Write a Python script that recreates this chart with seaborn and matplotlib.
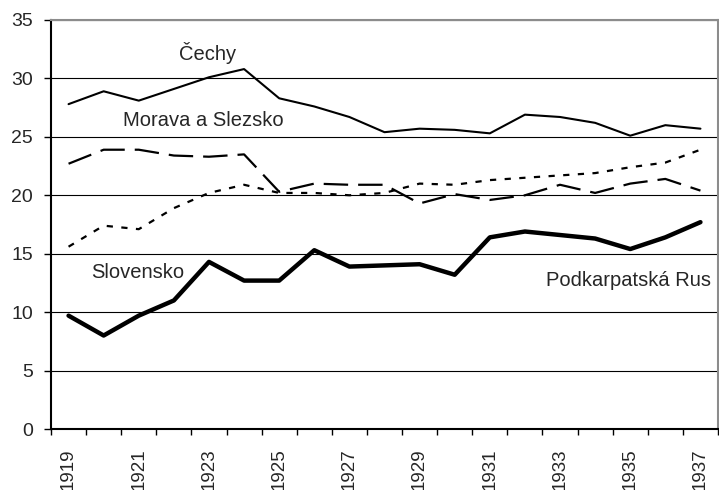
import matplotlib
matplotlib.use("Agg")
import matplotlib.pyplot as plt
import seaborn as sns
import pandas as pd
from matplotlib.ticker import MultipleLocator

# data
years = list(range(1919, 1938))
cechy = [27.8, 28.9, 28.1, 29.1, 30.1, 30.8, 28.3, 27.6, 26.7, 25.4, 25.7,
         25.6, 25.3, 26.9, 26.7, 26.2, 25.1, 26.0, 25.7]
morava = [22.7, 23.9, 23.9, 23.4, 23.3, 23.5, 20.3, 21.0, 20.9, 20.9, 19.3,
          20.1, 19.6, 20.0, 20.9, 20.2, 21.0, 21.4, 20.4]
slovensko = [15.6, 17.4, 17.1, 18.9, 20.2, 20.9, 20.2, 20.2, 20.0, 20.2, 21.0,
             20.9, 21.3, 21.5, 21.7, 21.9, 22.4, 22.8, 23.9]
podkarpatska = [9.7, 8.0, 9.7, 11.0, 14.3, 12.7, 12.7, 15.3, 13.9, 14.0, 14.1,
                13.2, 16.4, 16.9, 16.6, 16.3, 15.4, 16.4, 17.7]

series_labels = ['Čechy', 'Morava a Slezsko', 'Slovensko', 'Podkarpatská Rus']

sns.set_style('white')
plt.rcParams['font.family'] = ['Liberation Sans', 'DejaVu Sans']

df = pd.DataFrame({'rok': years, 'cechy': cechy, 'morava': morava,
                   'slovensko': slovensko, 'podkarpatska': podkarpatska})

fig = plt.figure(figsize=(7.19, 4.90), dpi=100)
ax = fig.add_axes([51 / 719, 61 / 490, 667 / 719, 409 / 490])

# linky
sns.lineplot(data=df, x='rok', y='cechy', ax=ax, color='black', lw=1.5)
sns.lineplot(data=df, x='rok', y='morava', ax=ax, color='black', lw=1.6)
ax.lines[-1].set_dashes([11, 4.5])
sns.lineplot(data=df, x='rok', y='slovensko', ax=ax, color='black', lw=1.6)
ax.lines[-1].set_dashes([2.8, 3.8])
sns.lineplot(data=df, x='rok', y='podkarpatska', ax=ax, color='black', lw=3.2)

ax.set_xlim(1918.5, 1937.5)
ax.set_ylim(0, 35)
ax.set_xlabel('')
ax.set_ylabel('')

ax.yaxis.set_major_locator(MultipleLocator(5))
ax.set_xticks(years[::2])
ax.set_xticklabels([str(y) for y in years[::2]], rotation=90, va='top')
ax.set_xticks([y - 0.5 for y in years] + [1937.5], minor=True)
ax.tick_params(axis='x', which='major', length=0, pad=14, labelsize=13.5)
ax.tick_params(axis='x', which='minor', length=4, width=1, color='black',
               direction='out', bottom=True)
ax.tick_params(axis='y', length=5, width=1, color='black', direction='out',
               left=True, labelsize=14, pad=8)

ax.grid(axis='y', color='black', lw=0.8)
ax.set_axisbelow(True)
for s in ['left', 'bottom']:
    ax.spines[s].set_color('black')
    ax.spines[s].set_linewidth(1.5)
for s in ['top', 'right']:
    ax.spines[s].set_color('#8c8c8c')
    ax.spines[s].set_linewidth(1.5)

# popisky rad
ax.text(1922.95, 32.2, series_labels[0], fontsize=14.5, ha='center', va='center')
ax.text(1922.85, 26.4, series_labels[1], fontsize=14.5, ha='center', va='center')
ax.text(1920.97, 13.4, series_labels[2], fontsize=14.5, ha='center', va='center')
ax.text(1934.96, 12.7, series_labels[3], fontsize=14.5, ha='center', va='center')

fig.savefig('out.png', dpi=100)
